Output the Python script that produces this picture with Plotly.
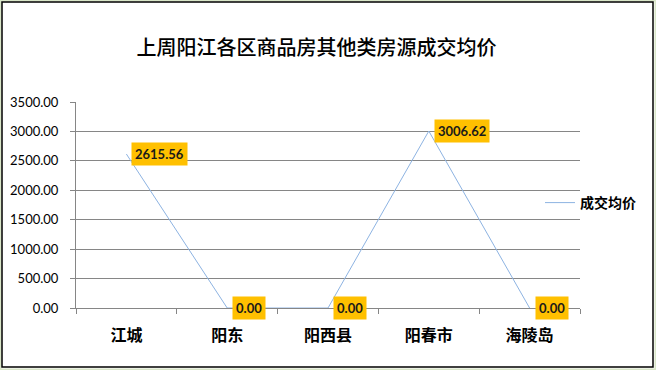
import plotly.graph_objects as go

categories = ["江城", "阳东", "阳西县", "阳春市", "海陵岛"]
avg_price = [2615.56, 0.00, 0.00, 3006.62, 0.00]
series_name = "成交均价"
title_text = "上周阳江各区商品房其他类房源成交均价"
y_ticks = [0, 500, 1000, 1500, 2000, 2500, 3000, 3500]

fig = go.Figure()
fig.add_trace(go.Scatter(
    x=categories, y=avg_price, mode="lines", name=series_name,
    line=dict(color="#8DB3E2", width=1), hoverinfo="x+y",
))

for c, v in zip(categories, avg_price):
    fig.add_annotation(
        x=c, y=v, xref="x", yref="y", text=f"<b>{v:.2f}</b>",
        showarrow=False, xanchor="left", yanchor="middle", xshift=5,
        bgcolor="#FFC000", borderpad=3,
        font=dict(family="Lato, Noto Sans", size=13, color="#1a1a1a"),
    )

fig.update_layout(
    width=656, height=370,
    margin=dict(l=76, r=76, t=102, b=62),
    paper_bgcolor="white", plot_bgcolor="white",
    title=dict(text=title_text, x=313/656, xanchor="center", xref="paper",
               y=1-48/370, yanchor="middle", yref="container",
               font=dict(family="Noto Sans CJK SC", size=20, color="#000000", weight=500)),
    xaxis=dict(type="category", tickson="boundaries", ticks="outside", ticklen=5,
               tickcolor="#868686", showline=True, linecolor="#868686", linewidth=1,
               showgrid=False, range=[-0.5, 4.5], ticklabelstandoff=13, automargin=False,
               tickfont=dict(family="Noto Sans CJK SC", size=16, color="#000000", weight="bold")),
    yaxis=dict(range=[0, 3500], tickvals=y_ticks, tickformat=".2f", ticks="outside",
               ticklen=5, tickcolor="#868686", showline=True, linecolor="#868686",
               showgrid=True, gridcolor="#868686", gridwidth=1, zeroline=False,
               ticklabelstandoff=9, automargin=False,
               tickfont=dict(family="Lato, Noto Sans", size=13, color="#000000")),
    showlegend=True,
    legend=dict(x=(540-76)/504, xanchor="left", y=(308-203)/206, yanchor="middle",
                bgcolor="rgba(0,0,0,0)",
                font=dict(family="Noto Sans CJK SC", size=14, color="#000000", weight="bold")),
    shapes=[
        dict(type="rect", xref="paper", yref="paper",
             x0=-(76-0.5)/504, x1=(655.5-76)/504, y0=-(369.5-308)/206, y1=(308-0.5)/206,
             line=dict(color="#D9E6C8", width=2), fillcolor="rgba(0,0,0,0)",
             layer="below"),
        dict(type="rect", xref="paper", yref="paper",
             x0=-(76-2)/504, x1=(653-76)/504, y0=-(367-308)/206, y1=(308-2)/206,
             line=dict(color="#000000", width=1.5), fillcolor="rgba(0,0,0,0)",
             layer="below"),
    ],
)

fig.write_html("out.html", config={"displayModeBar": False},
               post_script="document.body.style.margin='0';document.body.style.overflow='hidden';")
